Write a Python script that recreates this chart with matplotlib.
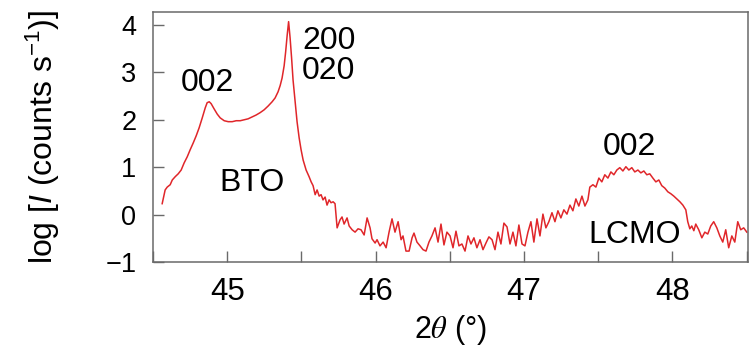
import matplotlib
matplotlib.use("Agg")
import matplotlib.pyplot as plt

plt.rcParams["font.family"] = ["Liberation Sans", "DejaVu Sans"]
plt.rcParams["mathtext.fontset"] = "custom"
plt.rcParams["mathtext.rm"] = "Liberation Sans"
plt.rcParams["mathtext.it"] = "Liberation Sans:italic"

# XRD scan around the BTO (002)/(200)/(020) and LCMO (002) reflections
two_theta = [
    44.562, 44.582, 44.596, 44.616, 44.630, 44.650, 44.670, 44.690, 44.710, 44.731,
    44.751, 44.771, 44.791, 44.811, 44.832, 44.852, 44.865, 44.879, 44.892, 44.912,
    44.933, 44.953, 44.980, 45.007, 45.034, 45.061, 45.088, 45.114, 45.141, 45.168,
    45.195, 45.222, 45.249, 45.276, 45.303, 45.323, 45.343, 45.357, 45.370, 45.384,
    45.394, 45.404, 45.414, 45.424, 45.434, 45.444, 45.458, 45.471, 45.485, 45.498,
    45.512, 45.532, 45.552, 45.566, 45.579, 45.593, 45.606, 45.620, 45.633, 45.646,
    45.660, 45.673, 45.687, 45.700, 45.714, 45.727, 45.741, 45.761, 45.774, 45.788,
    45.808, 45.822, 45.842, 45.862, 45.882, 45.902, 45.923, 45.943, 45.963, 45.976,
    45.997, 46.010, 46.030, 46.051, 46.071, 46.091, 46.111, 46.131, 46.152, 46.172,
    46.185, 46.205, 46.226, 46.246, 46.259, 46.279, 46.300, 46.320, 46.340, 46.360,
    46.380, 46.401, 46.421, 46.441, 46.461, 46.481, 46.502, 46.522, 46.542, 46.562,
    46.582, 46.603, 46.623, 46.643, 46.663, 46.683, 46.704, 46.724, 46.744, 46.764,
    46.785, 46.805, 46.825, 46.845, 46.865, 46.886, 46.906, 46.926, 46.946, 46.966,
    46.987, 47.007, 47.027, 47.047, 47.067, 47.088, 47.108, 47.128, 47.148, 47.168,
    47.189, 47.209, 47.229, 47.249, 47.269, 47.290, 47.310, 47.330, 47.350, 47.370,
    47.391, 47.411, 47.431, 47.444, 47.465, 47.485, 47.505, 47.525, 47.545, 47.566,
    47.586, 47.606, 47.626, 47.646, 47.667, 47.687, 47.707, 47.727, 47.747, 47.768,
    47.788, 47.808, 47.828, 47.848, 47.869, 47.889, 47.909, 47.929, 47.949, 47.970,
    47.990, 48.010, 48.030, 48.051, 48.071, 48.091, 48.104, 48.118, 48.131, 48.145,
    48.158, 48.178, 48.199, 48.219, 48.239, 48.259, 48.279, 48.300, 48.320, 48.340,
    48.360, 48.380, 48.401, 48.421, 48.441, 48.461, 48.481, 48.502,
]
log_intensity = [
    0.23, 0.52, 0.58, 0.63, 0.73, 0.80, 0.86, 0.94, 1.09, 1.22,
    1.37, 1.51, 1.66, 1.83, 2.04, 2.25, 2.36, 2.38, 2.34, 2.23,
    2.12, 2.04, 1.98, 1.96, 1.96, 1.98, 1.98, 2.00, 2.02, 2.06,
    2.10, 2.15, 2.21, 2.29, 2.38, 2.46, 2.59, 2.72, 2.88, 3.14,
    3.43, 3.77, 4.07, 3.73, 3.31, 2.84, 2.38, 1.96, 1.62, 1.37,
    1.15, 0.94, 0.80, 0.69, 0.61, 0.42, 0.52, 0.39, 0.42, 0.31,
    0.37, 0.20, 0.31, 0.25, 0.27, 0.23, -0.28, -0.11, -0.05, -0.20,
    -0.07, -0.24, -0.32, -0.37, -0.30, -0.32, -0.43, -0.07, -0.28, -0.51,
    -0.60, -0.53, -0.66, -0.58, -0.70, -0.37, -0.09, -0.37, -0.15, -0.53,
    -0.45, -0.77, -0.77, -0.49, -0.39, -0.58, -0.66, -0.74, -0.77, -0.58,
    -0.45, -0.28, -0.58, -0.20, -0.64, -0.37, -0.45, -0.70, -0.35, -0.66,
    -0.62, -0.77, -0.45, -0.62, -0.49, -0.70, -0.53, -0.74, -0.60, -0.47,
    -0.53, -0.74, -0.37, -0.62, -0.18, -0.26, -0.62, -0.37, -0.66, -0.22,
    -0.62, -0.66, -0.37, -0.15, -0.58, -0.09, -0.45, 0.01, -0.28, -0.15,
    0.04, -0.15, 0.08, -0.07, 0.10, 0.01, 0.20, 0.08, 0.33, 0.18,
    0.39, 0.18, 0.31, 0.58, 0.63, 0.58, 0.77, 0.69, 0.84, 0.77,
    0.90, 0.84, 0.94, 0.99, 0.92, 1.01, 0.94, 0.99, 0.90, 0.94,
    0.88, 0.92, 0.84, 0.86, 0.77, 0.69, 0.73, 0.61, 0.56, 0.48,
    0.44, 0.39, 0.33, 0.27, 0.20, 0.10, -0.15, -0.30, -0.24, -0.34,
    -0.20, -0.32, -0.49, -0.37, -0.41, -0.24, -0.15, -0.28, -0.45, -0.58,
    -0.32, -0.70, -0.45, -0.58, -0.15, -0.32, -0.28, -0.37,
]

x_ticks = [45, 46, 47, 48]
x_minor = [44.5, 45.5, 46.5, 47.5, 48.5]
y_ticks = [-1, 0, 1, 2, 3, 4]

# peak labels: (text, x, y)
labels = [
    ("002", 44.865, 2.77),
    ("200\n020", 45.505, 3.35),
    ("BTO", 45.168, 0.66),
    ("002", 47.714, 1.42),
    ("LCMO", 47.744, -0.43),
]

fig = plt.figure(figsize=(7.51, 3.49), dpi=100)
ax = fig.add_axes([0.2037, 0.2493, 0.7923, 0.7172])

ax.plot(two_theta, log_intensity, color="#e0262a", lw=1.1)

ax.set_xlim(44.5, 48.51)
ax.set_ylim(-1, 4.28)
ax.set_xticks(x_ticks)
ax.set_xticks(x_minor, minor=True)
ax.set_yticks(y_ticks)

spine_color = "#6a6a6a"
for s in ax.spines.values():
    s.set_color(spine_color)
    s.set_linewidth(1.1)

ax.tick_params(axis="x", which="major", direction="in", length=8, width=1.0,
               color=spine_color, labelsize=22.5, pad=11)
ax.tick_params(axis="x", which="minor", direction="in", length=8, width=1.0,
               color=spine_color)
ax.tick_params(axis="y", direction="in", length=8, width=1.0,
               color=spine_color, labelsize=19.5, pad=12)

ax.set_xlabel(r"2$\theta$ (°)", fontsize=22, labelpad=4, math_fontfamily="stix")
ax.set_ylabel(r"log [$\it{I}$ (counts s$^{\mathrm{-1}}$)]", fontsize=23, labelpad=31)

for text, x, y in labels:
    ax.text(x, y, text, fontsize=23, ha="left" if "\n" in text else "center",
            va="center", linespacing=1.0)

fig.savefig("out.png", dpi=100)
